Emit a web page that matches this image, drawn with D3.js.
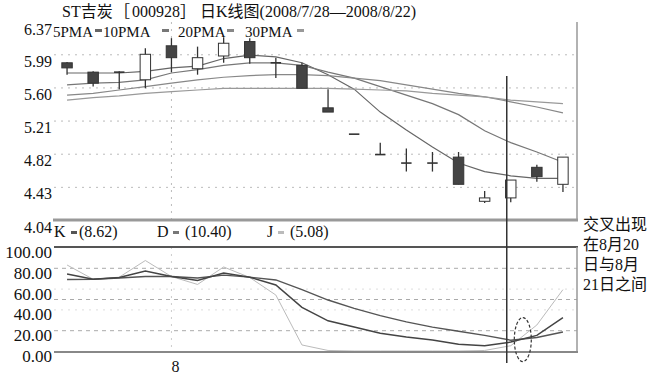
<!DOCTYPE html>
<html>
<head>
<meta charset="utf-8">
<script src="https://cdn.jsdelivr.net/npm/d3@7"></script>
<style>
  body { margin: 0; background: #fff; }
  svg { display: block; font-family: "Liberation Serif", "Times New Roman", "Noto Sans CJK SC", serif; }
</style>
</head>
<body>
<svg id="chart" width="662" height="379"></svg>
<script>
// trading days 2008/7/28 - 2008/8/22
const days = ['7/28', '7/29', '7/30', '7/31', '8/1', '8/4', '8/5', '8/6', '8/7', '8/8',
  '8/11', '8/12', '8/13', '8/14', '8/15', '8/18', '8/19', '8/20', '8/21', '8/22'];

const openP  = [5.89, 5.78, 5.77, 5.69, 6.09, 5.82, 5.97, 6.14, 5.89, 5.86, 5.36, 5.05, 4.81, 4.71, 4.71, 4.78, 4.26, 4.30, 4.66, 4.46];
const highP  = [5.90, 5.79, 5.79, 6.06, 6.18, 6.08, 6.19, 6.18, 5.95, 5.89, 5.58, 5.05, 4.95, 4.88, 4.84, 4.84, 4.38, 4.51, 4.69, 4.78];
const lowP   = [5.75, 5.61, 5.58, 5.59, 5.78, 5.75, 5.89, 5.88, 5.71, 5.59, 5.31, 5.05, 4.81, 4.61, 4.61, 4.46, 4.24, 4.25, 4.49, 4.37];
const closeP = [5.83, 5.65, 5.78, 5.99, 5.95, 5.95, 6.12, 5.95, 5.89, 5.59, 5.31, 5.05, 4.81, 4.71, 4.71, 4.46, 4.30, 4.51, 4.55, 4.78];

const ma5  = [5.77, 5.77, 5.77, 5.79, 5.83, 5.85, 5.94, 5.98, 5.96, 5.89, 5.75, 5.58, 5.31, 5.10, 4.90, 4.71, 4.61, 4.56, 4.53, 4.53];
const ma10 = [5.63, 5.65, 5.66, 5.69, 5.77, 5.81, 5.86, 5.89, 5.89, 5.86, 5.78, 5.71, 5.61, 5.51, 5.41, 5.28, 5.09, 4.95, 4.84, 4.72];
const ma20 = [5.51, 5.53, 5.57, 5.61, 5.65, 5.69, 5.72, 5.74, 5.75, 5.75, 5.74, 5.71, 5.68, 5.63, 5.58, 5.53, 5.49, 5.43, 5.37, 5.30];
const ma30 = [5.45, 5.48, 5.50, 5.53, 5.55, 5.57, 5.59, 5.59, 5.59, 5.59, 5.59, 5.58, 5.57, 5.56, 5.53, 5.51, 5.49, 5.45, 5.43, 5.41];

const kVals = [74, 69, 70.7, 77, 71.6, 67.8, 75, 71, 63.5, 42, 29, 23, 17, 13.5, 10.6, 6.5, 5, 8.62, 15, 32];
const dVals = [68.8, 69, 70.2, 71.6, 71.6, 70.2, 73, 71, 68.3, 59, 49, 41, 34, 28, 23, 19, 15, 10.40, 13, 18.3];
const jVals = [82.7, 69, 71, 87, 71.6, 64, 80.8, 70.7, 53.8, 5.8, 0.5, 0, 0, 0, 0, 0, 0.5, 5.08, 25, 59];

const priceTicks = [4.04, 4.43, 4.82, 5.21, 5.60, 5.99, 6.37];
const priceGrid = [4.43, 4.82, 5.21, 5.60, 5.99];
const kdjTicks = [0, 20, 40, 60, 80, 100];
const kdjGridMajor = [20, 50, 80];
const kdjGridMinor = [40, 60];

const titleParts = [
  { t: 'ST吉炭', x: 62 },
  { t: '［', x: 114 },
  { t: '000928', x: 132 },
  { t: '］', x: 180 },
  { t: '日K线图(2008/7/28—2008/8/22)', x: 200 }
];

const maLegend = [
  { label: '5PMA', x: 53, dash: 95, color: '#666' },
  { label: '10PMA', x: 103, dash: 162, color: '#777' },
  { label: '20PMA', x: 178, dash: 227, color: '#888' },
  { label: '30PMA', x: 245, dash: 297, color: '#999' }
];
const maSeries = [ma5, ma10, ma20, ma30];

const kdjLegend = [
  { label: 'K', value: '(8.62)', x: 54, dash: 71, vx: 79, color: '#555' },
  { label: 'D', value: '(10.40)', x: 157, dash: 173, vx: 185, color: '#777' },
  { label: 'J', value: '(5.08)', x: 267, dash: 278, vx: 290, color: '#bbb' }
];
const note = ['交叉出现', '在8月20', '日与8月', '21日之间'];

const serif = '"Liberation Serif", "Times New Roman", "Noto Sans CJK SC", serif';
const svg = d3.select('#chart');
const left = 54, right = 577;

const x = d3.scaleBand().domain(days).range([left, right - 1]).paddingInner(0.6).paddingOuter(0.3);
const cx = d => x(d) + x.bandwidth() / 2;
const yP = d3.scaleLinear().domain([4.04, 6.37]).range([220, 22]);
const yK = d3.scaleLinear().domain([0, 100]).range([351, 247]);

// title
const title = svg.append('text')
  .attr('y', 17)
  .attr('font-size', '16px').attr('fill', '#111');
titleParts.forEach(p => title.append('tspan').attr('x', p.x).text(p.t));

// ---- price panel ----
const gridP = svg.append('g').attr('transform', `translate(${left},0)`)
  .call(d3.axisLeft(yP).tickValues(priceGrid).tickSize(-(right - left)).tickFormat(''));
gridP.select('.domain').remove();
gridP.selectAll('line').attr('stroke', '#bbb').attr('stroke-dasharray', '2,5');

const axP = svg.append('g').attr('transform', `translate(${left + 1},0)`)
  .call(d3.axisLeft(yP).tickValues(priceTicks).tickSize(0).tickPadding(3).tickFormat(d3.format('.2f')));
axP.attr('font-family', serif);
axP.select('.domain').remove();
axP.selectAll('text').attr('y', 7).attr('font-size', '16px').attr('fill', '#111');

// vertical grid at 8/1
svg.append('line')
  .attr('x1', cx('8/1')).attr('x2', cx('8/1')).attr('y1', 22).attr('y2', 220)
  .attr('stroke', '#bbb').attr('stroke-dasharray', '2,5');

// moving averages
const maLine = d3.line().x((d, i) => cx(days[i])).y(d => yP(d));
maSeries.forEach((s, i) => {
  svg.append('path').datum(s)
    .attr('d', maLine)
    .attr('fill', 'none')
    .attr('stroke', maLegend[i].color)
    .attr('stroke-width', 1.2);
});

// candles
const bw = x.bandwidth();
days.forEach((d, i) => {
  const o = openP[i], c = closeP[i];
  const down = c < o;
  const g = svg.append('g');
  g.append('line')
    .attr('x1', cx(d)).attr('x2', cx(d))
    .attr('y1', yP(highP[i])).attr('y2', yP(lowP[i]))
    .attr('stroke', '#333').attr('stroke-width', 1.3);
  const top = yP(Math.max(o, c)), bot = yP(Math.min(o, c));
  if (bot - top < 1.5) {
    g.append('line')
      .attr('x1', x(d)).attr('x2', x(d) + bw)
      .attr('y1', top).attr('y2', top)
      .attr('stroke', '#333').attr('stroke-width', 1.6);
  } else {
    g.append('rect')
      .attr('x', x(d)).attr('y', top)
      .attr('width', bw).attr('height', bot - top)
      .attr('fill', down ? '#444' : '#fff')
      .attr('stroke', '#333').attr('stroke-width', 1);
  }
});

// MA legend
maLegend.forEach(m => {
  svg.append('text').attr('x', m.x).attr('y', 37)
    .attr('font-size', '15px').attr('fill', '#111').text(m.label);
  svg.append('rect').attr('x', m.dash).attr('y', 29).attr('width', 7).attr('height', 3)
    .attr('fill', m.color);
});

// price panel frame
svg.append('line').attr('x1', right).attr('x2', right).attr('y1', 22).attr('y2', 220)
  .attr('stroke', '#999').attr('stroke-width', 1.5);
svg.append('line').attr('x1', left - 1).attr('x2', right + 1).attr('y1', 220).attr('y2', 220)
  .attr('stroke', '#999').attr('stroke-width', 3);

// ---- KDJ panel ----
kdjLegend.forEach(k => {
  svg.append('text').attr('x', k.x).attr('y', 237)
    .attr('font-size', '16px').attr('fill', '#111').text(k.label);
  svg.append('rect').attr('x', k.dash).attr('y', 231).attr('width', 6).attr('height', 3)
    .attr('fill', k.color);
  svg.append('text').attr('x', k.vx).attr('y', 237)
    .attr('font-size', '16px').attr('fill', '#111').text(k.value);
});

const gridMaj = svg.append('g').attr('transform', `translate(${left},0)`)
  .call(d3.axisLeft(yK).tickValues(kdjGridMajor).tickSize(-(right - left)).tickFormat(''));
gridMaj.select('.domain').remove();
gridMaj.selectAll('line').attr('stroke', '#aaa').attr('stroke-dasharray', '4,4');

const gridMin = svg.append('g').attr('transform', `translate(${left},0)`)
  .call(d3.axisLeft(yK).tickValues(kdjGridMinor).tickSize(-(right - left)).tickFormat(''));
gridMin.select('.domain').remove();
gridMin.selectAll('line').attr('stroke', '#ddd').attr('stroke-dasharray', '2,5');

svg.append('line')
  .attr('x1', cx('8/1')).attr('x2', cx('8/1')).attr('y1', 247).attr('y2', 351)
  .attr('stroke', '#ccc').attr('stroke-dasharray', '2,5');

const axK = svg.append('g').attr('transform', `translate(${left + 1},0)`)
  .call(d3.axisLeft(yK).tickValues(kdjTicks).tickSize(0).tickPadding(3).tickFormat(d3.format('.2f')));
axK.attr('font-family', serif);
axK.select('.domain').remove();
axK.selectAll('text').attr('y', 5).attr('font-size', '17px').attr('fill', '#111');

const kdjLine = d3.line().x((d, i) => cx(days[i])).y(d => yK(d));
[[jVals, '#bbb', 1], [dVals, '#555', 1.4], [kVals, '#444', 1.5]].forEach(([s, col, w]) => {
  svg.append('path').datum(s)
    .attr('d', kdjLine)
    .attr('fill', 'none').attr('stroke', col).attr('stroke-width', w);
});

// KDJ frame
svg.append('line').attr('x1', left).attr('x2', right + 1).attr('y1', 247).attr('y2', 247)
  .attr('stroke', '#555').attr('stroke-width', 2);
svg.append('line').attr('x1', right).attr('x2', right).attr('y1', 247).attr('y2', 352)
  .attr('stroke', '#999').attr('stroke-width', 1.5);
svg.append('line').attr('x1', left).attr('x2', right + 1).attr('y1', 352).attr('y2', 352)
  .attr('stroke', '#888').attr('stroke-width', 2);

// x axis label
const axX = svg.append('g').attr('transform', 'translate(4,361)')
  .call(d3.axisBottom(x).tickValues(['8/1']).tickSize(0).tickPadding(0).tickFormat(() => '8'));
axX.attr('font-family', serif);
axX.select('.domain').remove();
axX.selectAll('text').attr('font-size', '16px').attr('fill', '#111');

// cursor line on 8/20
svg.append('line')
  .attr('x1', cx('8/20') - 4).attr('x2', cx('8/20') - 4)
  .attr('y1', 76).attr('y2', 363)
  .attr('stroke', '#333').attr('stroke-width', 1.5);

// cross marker between 8/20 and 8/21
svg.append('ellipse')
  .attr('cx', (cx('8/20') + cx('8/21')) / 2 - 1)
  .attr('cy', yK(11))
  .attr('rx', 8.5).attr('ry', 22)
  .attr('fill', 'none').attr('stroke', '#333').attr('stroke-width', 1.2)
  .attr('stroke-dasharray', '3,2');

// annotation
note.forEach((t, i) => {
  svg.append('text').attr('x', 583).attr('y', 230 + i * 20)
    .attr('font-size', '16px').attr('fill', '#111').text(t);
});
</script>
</body>
</html>
